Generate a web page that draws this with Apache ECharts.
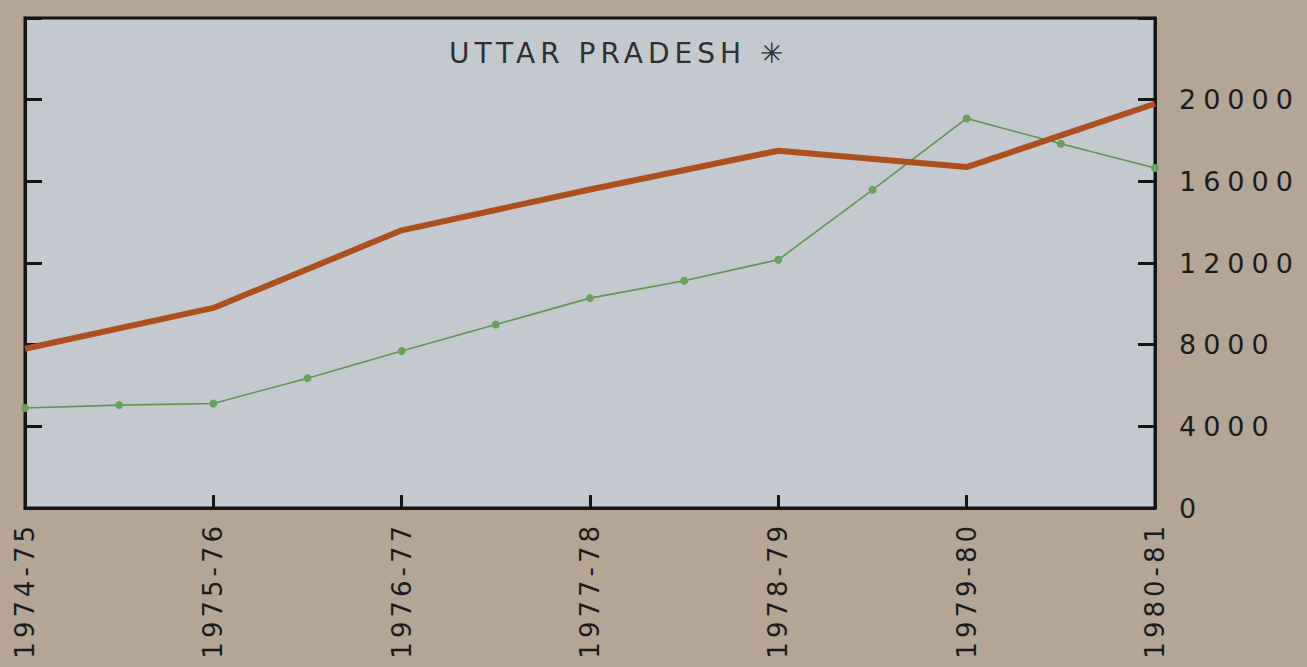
<!DOCTYPE html>
<html>
<head>
<meta charset="utf-8">
<script src="https://cdn.jsdelivr.net/npm/echarts@6/dist/echarts.min.js"></script>
<style>
  html, body { margin: 0; padding: 0; background: #b4a594; }
  #upChart { width: 1307px; height: 667px; }
  /* wide spaced lettering of the printed chart */
  #upChart text[style*="27px"] { letter-spacing: 7px; }
  #upChart text[style*="26px"] { letter-spacing: 4px; }
  #upChart text[style*="28px"] { letter-spacing: 5px; }
</style>
</head>
<body>
<div id="upChart"></div>
<script>
const years = ["1974-75", "1975-76", "1976-77", "1977-78", "1978-79", "1979-80", "1980-81"];
// thick brown line, one value per year
const brownValues = [7800, 9800, 13600, 15600, 17500, 16700, 19800];
// thin green line, one value every half year
const greenValues = [4900, 5040, 5120, 6360, 7690, 8990, 10280, 11130, 12160, 15580, 19080, 17840, 16650];
const yTicks = [0, 4000, 8000, 12000, 16000, 20000, 24000];

const axisColor = "#151515";
const labelFont = "DejaVu Sans";

let myChart = echarts.init(document.getElementById("upChart"), null, { renderer: "svg" });
myChart.setOption({
  animation: false,
  backgroundColor: "#b4a594",
  title: {
    text: "UTTAR PRADESH \u2733",
    left: 444,
    top: 34,
    textStyle: {
      color: "#2e3033",
      fontFamily: labelFont,
      fontSize: 28,
      fontWeight: "normal",
    },
  },
  grid: {
    left: 25,
    right: 152,
    top: 18,
    bottom: 159,
    show: true,
    backgroundColor: "#c3c9cf",
    borderColor: axisColor,
    borderWidth: 3,
  },
  xAxis: {
    type: "value",
    min: 0,
    max: years.length - 1,
    interval: 1,
    axisLine: { lineStyle: { color: axisColor, width: 3 } },
    axisTick: { inside: true, length: 13, lineStyle: { color: axisColor, width: 3 } },
    splitLine: { show: false },
    axisLabel: {
      rotate: 90,
      margin: 14,
      color: "#1c1c1c",
      fontFamily: labelFont,
      fontSize: 26,
      formatter: (v) => years[v] || "",
    },
  },
  yAxis: [
    {
      type: "value",
      position: "left",
      min: yTicks[0],
      max: yTicks[yTicks.length - 1],
      interval: 4000,
      axisLine: { show: true, lineStyle: { color: axisColor, width: 3 } },
      axisTick: { show: true, inside: true, length: 17, lineStyle: { color: axisColor, width: 3 } },
      axisLabel: { show: false },
      splitLine: { show: false },
    },
    {
      type: "value",
      position: "right",
      min: yTicks[0],
      max: yTicks[yTicks.length - 1],
      interval: 4000,
      axisLine: { show: true, lineStyle: { color: axisColor, width: 3 } },
      axisTick: { show: true, inside: true, length: 17, lineStyle: { color: axisColor, width: 3 } },
      axisLabel: {
        margin: 24,
        color: "#1c1c1c",
        fontFamily: labelFont,
        fontSize: 27,
        formatter: (v) => (v === 24000 ? "" : String(v)),
      },
      splitLine: { show: false },
    },
  ],
  series: [
    {
      name: "green",
      type: "line",
      yAxisIndex: 1,
      data: greenValues.map((v, i) => [i / 2, v]),
      symbol: "circle",
      symbolSize: 8,
      itemStyle: { color: "#6aa25c" },
      lineStyle: { color: "#5e9653", width: 1.6 },
      z: 2,
    },
    {
      name: "brown",
      type: "line",
      yAxisIndex: 1,
      data: brownValues.map((v, i) => [i, v]),
      showSymbol: false,
      lineStyle: { color: "#ac501e", width: 6, join: "round" },
      z: 3,
    },
  ],
});
</script>
</body>
</html>
